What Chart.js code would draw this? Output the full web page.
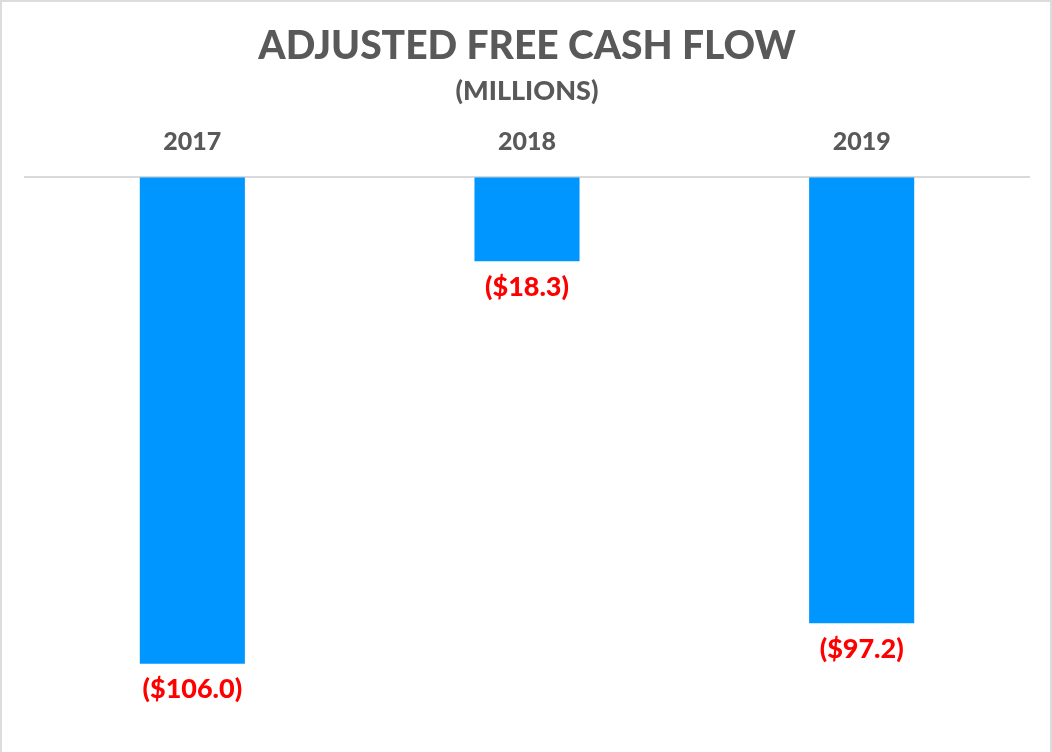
<!DOCTYPE html>
<html>
<head>
<meta charset="utf-8">
<script src="https://cdn.jsdelivr.net/npm/chart.js@4"></script>
<style>
  html, body { margin: 0; padding: 0; background: #fff; }
  #wrap { position: relative; width: 1052px; height: 752px; }
  #frame { position: absolute; left: 0; top: 0; right: 0; bottom: -4px; border: 2px solid #dcdcdc; pointer-events: none; }
  canvas { display: block; }
</style>
</head>
<body>
<div id="wrap">
  <canvas id="chart" width="1052" height="752"></canvas>
  <div id="frame"></div>
</div>
<script>
const TITLE = "ADJUSTED FREE CASH FLOW";
const SUBTITLE = "(MILLIONS)";
const years = ["2017", "2018", "2019"];
const cashFlow = [-106.0, -18.3, -97.2];

const FONT = "Lato, 'Open Sans', sans-serif";
const GRAY = "#595959";

function fmtMoney(v) {
  // negative values shown in accounting style
  const s = "$" + Math.abs(v).toFixed(1);
  return v < 0 ? "(" + s + ")" : s;
}

// draws the red value label under each bar
const valueLabels = {
  id: "valueLabels",
  afterDatasetsDraw(chart) {
    const ctx = chart.ctx;
    const meta = chart.getDatasetMeta(0);
    ctx.save();
    ctx.font = "900 27px " + FONT;
    ctx.fillStyle = "#ff0000";
    ctx.textAlign = "center";
    ctx.textBaseline = "middle";
    meta.data.forEach((bar, i) => {
      ctx.fillText(fmtMoney(cashFlow[i]), bar.x, bar.y + 26);
    });
    ctx.restore();
  }
};

new Chart(document.getElementById("chart"), {
  type: "bar",
  data: {
    labels: years,
    datasets: [{
      data: cashFlow,
      backgroundColor: "#0096ff",
      borderWidth: 0,
      barPercentage: 1,
      categoryPercentage: 0.314
    }]
  },
  options: {
    responsive: false,
    animation: false,
    layout: { padding: { left: 25, right: 23, top: 0, bottom: 24 } },
    plugins: {
      legend: { display: false },
      tooltip: { enabled: false },
      title: {
        display: true,
        text: TITLE,
        color: GRAY,
        font: { family: FONT, size: 39, weight: 900 },
        padding: { top: 23, bottom: 5 }
      },
      subtitle: {
        display: true,
        text: SUBTITLE,
        color: GRAY,
        font: { family: FONT, size: 27, weight: 900 },
        padding: { top: 0, bottom: 0 }
      }
    },
    scales: {
      x: {
        position: "top",
        grid: { display: false, drawTicks: false },
        border: { display: true, color: "#d9d9d9", width: 2 },
        ticks: { color: GRAY, font: { family: FONT, size: 25, weight: 900 }, padding: 20 }
      },
      y: {
        display: false,
        min: -120,
        max: 0
      }
    }
  },
  plugins: [valueLabels]
});
</script>
</body>
</html>
